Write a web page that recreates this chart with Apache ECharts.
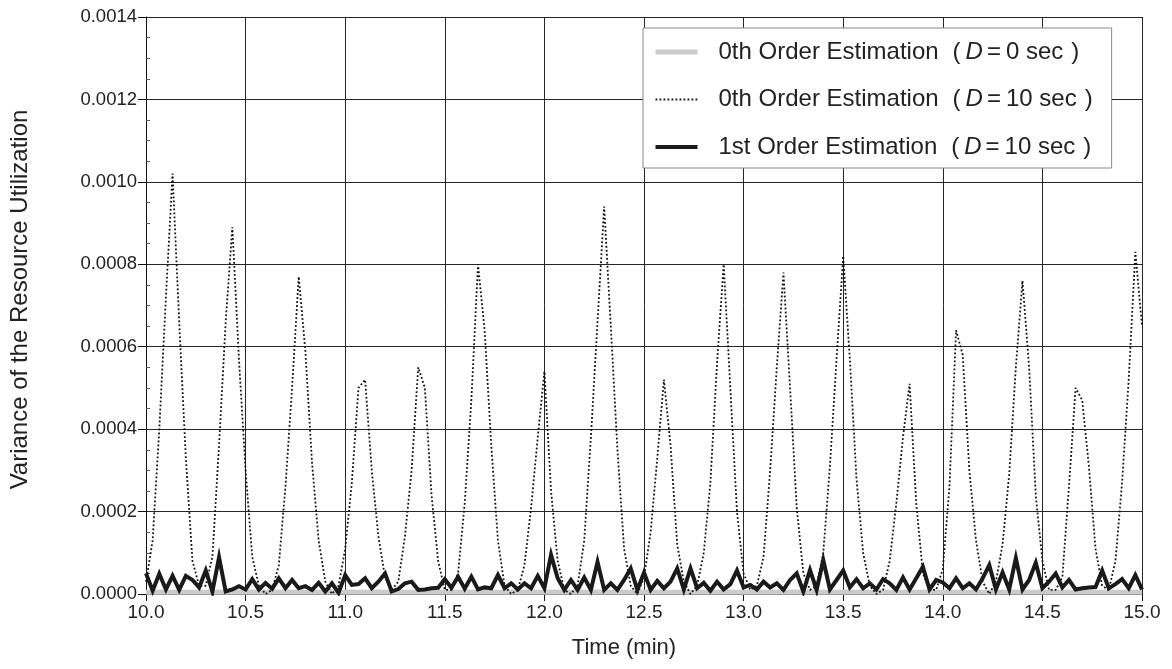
<!DOCTYPE html>
<html>
<head>
<meta charset="utf-8">
<title>Variance of the Resource Utilization</title>
<script src="https://cdn.jsdelivr.net/npm/echarts@6/dist/echarts.min.js"></script>
<style>
  html, body { margin: 0; padding: 0; background: #fff; }
  #chart { width: 1172px; height: 669px; }
</style>
</head>
<body>
<div id="chart"></div>
<script>
// Sampling: one value every 2 seconds, from 10.0 min to 15.0 min (151 samples)
const START_MIN = 10;
const STEP_MIN = 1 / 30;

const seriesNames = [
  '0th Order Estimation ( D = 0 sec )',
  '0th Order Estimation ( D = 10 sec )',
  '1st Order Estimation ( D = 10 sec )'
];

// 0th order estimation, D = 0 sec
const zeroOrderD0 = [
  0.000004, 0.000004, 0.000005, 0.000004, 0.000004, 0.000005, 0.000004, 0.000004, 0.000005, 0.000004,
  0.000004, 0.000005, 0.000004, 0.000004, 0.000004, 0.000005, 0.000004, 0.000004, 0.000005, 0.000004,
  0.000004, 0.000005, 0.000004, 0.000004, 0.000004, 0.000005, 0.000004, 0.000004, 0.000005, 0.000004,
  0.000004, 0.000005, 0.000004, 0.000004, 0.000004, 0.000005, 0.000004, 0.000004, 0.000005, 0.000004,
  0.000004, 0.000005, 0.000004, 0.000004, 0.000004, 0.000005, 0.000004, 0.000004, 0.000005, 0.000004,
  0.000004, 0.000005, 0.000004, 0.000004, 0.000004, 0.000005, 0.000004, 0.000004, 0.000005, 0.000004,
  0.000004, 0.000005, 0.000004, 0.000004, 0.000004, 0.000005, 0.000004, 0.000004, 0.000005, 0.000004,
  0.000004, 0.000005, 0.000004, 0.000004, 0.000004, 0.000005, 0.000004, 0.000004, 0.000005, 0.000004,
  0.000004, 0.000005, 0.000004, 0.000004, 0.000004, 0.000005, 0.000004, 0.000004, 0.000005, 0.000004,
  0.000004, 0.000005, 0.000004, 0.000004, 0.000004, 0.000005, 0.000004, 0.000004, 0.000005, 0.000004,
  0.000004, 0.000005, 0.000004, 0.000004, 0.000004, 0.000005, 0.000004, 0.000004, 0.000005, 0.000004,
  0.000004, 0.000005, 0.000004, 0.000004, 0.000004, 0.000005, 0.000004, 0.000004, 0.000005, 0.000004,
  0.000004, 0.000005, 0.000004, 0.000004, 0.000004, 0.000005, 0.000004, 0.000004, 0.000005, 0.000004,
  0.000004, 0.000005, 0.000004, 0.000004, 0.000004, 0.000005, 0.000004, 0.000004, 0.000005, 0.000004,
  0.000004, 0.000005, 0.000004, 0.000004, 0.000004, 0.000005, 0.000004, 0.000004, 0.000005, 0.000004,
  0.000004
];

// 0th order estimation, D = 10 sec
const zeroOrderD10 = [
  0.00003, 0.00013, 0.00040, 0.00072, 0.00102, 0.00066, 0.00033, 0.00008, 0.00002, 0.00002,
  0.00009, 0.00036, 0.00066, 0.00089, 0.00057, 0.00030, 0.00009, 0.00002, 0.00000, 0.00001,
  0.00007, 0.00026, 0.00050, 0.00077, 0.00059, 0.00032, 0.00013, 0.00003, 0.00000, 0.00002,
  0.00011, 0.00027, 0.00050, 0.00052, 0.00030, 0.00014, 0.00004, 0.00001, 0.00003, 0.00014,
  0.00030, 0.00055, 0.00050, 0.00024, 0.00008, 0.00001, 0.00001, 0.00005, 0.00022, 0.00047,
  0.00080, 0.00064, 0.00036, 0.00013, 0.00002, 0.00000, 0.00001, 0.00007, 0.00021, 0.00038,
  0.00054, 0.00025, 0.00008, 0.00001, 0.00000, 0.00002, 0.00013, 0.00038, 0.00066, 0.00094,
  0.00065, 0.00035, 0.00011, 0.00002, 0.00000, 0.00004, 0.00015, 0.00033, 0.00052, 0.00036,
  0.00012, 0.00003, 0.00000, 0.00002, 0.00010, 0.00027, 0.00056, 0.00080, 0.00050, 0.00020,
  0.00005, 0.00001, 0.00002, 0.00009, 0.00030, 0.00055, 0.00078, 0.00050, 0.00021, 0.00005,
  0.00001, 0.00002, 0.00010, 0.00031, 0.00057, 0.00082, 0.00057, 0.00028, 0.00010, 0.00002,
  0.00000, 0.00001, 0.00008, 0.00022, 0.00038, 0.00051, 0.00022, 0.00005, 0.00001, 0.00001,
  0.00006, 0.00026, 0.00064, 0.00058, 0.00030, 0.00013, 0.00003, 0.00000, 0.00003, 0.00012,
  0.00029, 0.00055, 0.00076, 0.00055, 0.00024, 0.00008, 0.00001, 0.00001, 0.00004, 0.00026,
  0.00050, 0.00047, 0.00031, 0.00011, 0.00002, 0.00001, 0.00008, 0.00027, 0.00052, 0.00083,
  0.00065
];

// 1st order estimation, D = 10 sec
const firstOrderD10 = [
  0.000050, 0.000008, 0.000049, 0.000011, 0.000044, 0.000010, 0.000044, 0.000034, 0.000016, 0.000057,
  0.000006, 0.000089, 0.000006, 0.000011, 0.000019, 0.000011, 0.000036, 0.000011, 0.000027, 0.000013,
  0.000038, 0.000014, 0.000034, 0.000014, 0.000019, 0.000010, 0.000027, 0.000006, 0.000026, 0.000003,
  0.000046, 0.000022, 0.000024, 0.000038, 0.000014, 0.000030, 0.000050, 0.000006, 0.000012, 0.000026,
  0.000030, 0.000010, 0.000011, 0.000014, 0.000015, 0.000036, 0.000015, 0.000042, 0.000013, 0.000042,
  0.000011, 0.000016, 0.000014, 0.000046, 0.000014, 0.000026, 0.000011, 0.000026, 0.000014, 0.000044,
  0.000014, 0.000095, 0.000038, 0.000010, 0.000034, 0.000010, 0.000040, 0.000010, 0.000078, 0.000010,
  0.000026, 0.000010, 0.000034, 0.000062, 0.000010, 0.000052, 0.000010, 0.000032, 0.000014, 0.000030,
  0.000062, 0.000011, 0.000062, 0.000014, 0.000027, 0.000008, 0.000030, 0.000011, 0.000024, 0.000057,
  0.000016, 0.000022, 0.000011, 0.000030, 0.000016, 0.000026, 0.000010, 0.000034, 0.000050, 0.000006,
  0.000058, 0.000010, 0.000082, 0.000011, 0.000034, 0.000057, 0.000016, 0.000036, 0.000014, 0.000026,
  0.000011, 0.000036, 0.000026, 0.000010, 0.000040, 0.000011, 0.000038, 0.000066, 0.000011, 0.000034,
  0.000028, 0.000014, 0.000038, 0.000014, 0.000026, 0.000011, 0.000038, 0.000070, 0.000011, 0.000052,
  0.000011, 0.000087, 0.000011, 0.000034, 0.000076, 0.000014, 0.000030, 0.000050, 0.000016, 0.000034,
  0.000011, 0.000014, 0.000016, 0.000017, 0.000057, 0.000014, 0.000024, 0.000036, 0.000014, 0.000046,
  0.000011
];

const yTickLabels = ['0.0000', '0.0002', '0.0004', '0.0006', '0.0008', '0.0010', '0.0012', '0.0014'];
const xTickLabels = ['10.0', '10.5', '11.0', '11.5', '12.0', '12.5', '13.0', '13.5', '14.0', '14.5', '15.0'];

function withTime(values) {
  return values.map((v, i) => [START_MIN + i * STEP_MIN, v]);
}

const FONT = '"Liberation Sans", Arial, Helvetica, sans-serif';
const INK = '#222';
const GRID = '#262626';
const LEGEND_FONT = 24;

const chart = echarts.init(document.getElementById('chart'), null, { renderer: 'canvas' });

// Legend entry: "<label>  ( D = <n> sec )" with an italic D
function legendText(name) {
  const m = name.match(/^(.*) \( D = (.*) \)$/);
  return '{s|}{a|' + m[1] + '}{b|(}{i|D}{c|=}{a|' + m[2] + '}{d|)}';
}

const richBase = { fontSize: LEGEND_FONT, color: INK, fontFamily: FONT, lineHeight: 28 };

chart.setOption({
  animation: false,
  backgroundColor: '#fff',
  textStyle: { fontFamily: FONT },
  grid: { left: 144, right: 30, top: 17, bottom: 75, containLabel: false },
  legend: {
    orient: 'vertical',
    left: 643,
    top: 28,
    padding: [12, 19, 9, 10],
    backgroundColor: '#fff',
    borderColor: '#888',
    borderWidth: 1,
    borderRadius: 0,
    itemWidth: 42,
    itemHeight: 14,
    itemGap: 23.5,
    itemStyle: { color: 'rgba(0,0,0,0)', borderWidth: 0, opacity: 0 },
    data: [
      { name: seriesNames[0], lineStyle: { width: 5, color: '#cbcbcb' } },
      { name: seriesNames[1], lineStyle: { width: 1.8, color: '#1a1a1a', type: [1.8, 2.2] } },
      { name: seriesNames[2], lineStyle: { width: 4, color: '#1a1a1a' } }
    ],
    formatter: legendText,
    textStyle: {
      color: INK,
      fontSize: LEGEND_FONT,
      fontFamily: FONT,
      rich: {
        s: { width: 16 },
        a: Object.assign({}, richBase),
        b: Object.assign({}, richBase, { padding: [0, 5, 0, 14] }),
        i: Object.assign({}, richBase, { fontStyle: 'italic' }),
        c: Object.assign({}, richBase, { padding: [0, 5, 0, 4] }),
        d: Object.assign({}, richBase, { padding: [0, 0, 0, 8] })
      }
    }
  },
  xAxis: {
    type: 'value',
    min: 10,
    max: 15,
    interval: 0.5,
    name: 'Time (min)',
    nameLocation: 'middle',
    nameGap: 43,
    nameTextStyle: { color: INK, fontSize: 22, fontFamily: FONT, padding: [0, 40, 0, 0] },
    axisLine: { show: true, lineStyle: { color: '#111', width: 1 } },
    axisTick: { show: true, inside: false, length: 7, lineStyle: { color: '#111' } },
    axisLabel: {
      color: INK, fontSize: 19, margin: 9, fontFamily: FONT,
      formatter: v => xTickLabels[Math.round((v - 10) / 0.5)]
    },
    splitLine: { show: true, lineStyle: { color: GRID, width: 1 } }
  },
  yAxis: [
    {
      type: 'value',
      min: 0,
      max: 0.0014,
      interval: 0.0002,
      name: 'Variance of the Resource Utilization',
      nameLocation: 'middle',
      nameGap: 114,
      nameTextStyle: { color: INK, fontSize: 24, fontFamily: FONT, padding: [0, 0, 0, 12] },
      axisLine: { show: true, lineStyle: { color: '#111', width: 1 } },
      axisTick: { show: true, inside: false, length: 8, lineStyle: { color: '#111' } },
      axisLabel: {
        color: INK, fontSize: 18.5, margin: 9, fontFamily: FONT,
        formatter: v => yTickLabels[Math.round(v / 0.0002)]
      },
      splitLine: { show: true, lineStyle: { color: GRID, width: 1 } }
    },
    {
      // inner minor ticks along the left edge
      type: 'value',
      min: 0,
      max: 0.0014,
      interval: 0.0002,
      position: 'left',
      axisLine: { show: false },
      axisLabel: { show: false },
      splitLine: { show: false },
      axisTick: { show: false, inside: true },
      minorTick: { show: true, splitNumber: 4, length: 4, lineStyle: { color: '#555', width: 1 } }
    }
  ],
  series: [
    {
      name: seriesNames[0],
      type: 'line',
      symbol: 'none',
      showSymbol: false,
      data: withTime(zeroOrderD0),
      lineStyle: { color: '#cbcbcb', width: 5 },
      itemStyle: { color: '#cbcbcb' },
      z: 2
    },
    {
      name: seriesNames[1],
      type: 'line',
      symbol: 'none',
      showSymbol: false,
      data: withTime(zeroOrderD10),
      lineStyle: { color: '#111', width: 1.8, type: [1.8, 2.2] },
      itemStyle: { color: '#111' },
      z: 3
    },
    {
      name: seriesNames[2],
      type: 'line',
      symbol: 'none',
      showSymbol: false,
      data: withTime(firstOrderD10),
      lineStyle: { color: '#1a1a1a', width: 4, join: 'miter' },
      itemStyle: { color: '#1a1a1a' },
      z: 4
    }
  ]
});
</script>
</body>
</html>
